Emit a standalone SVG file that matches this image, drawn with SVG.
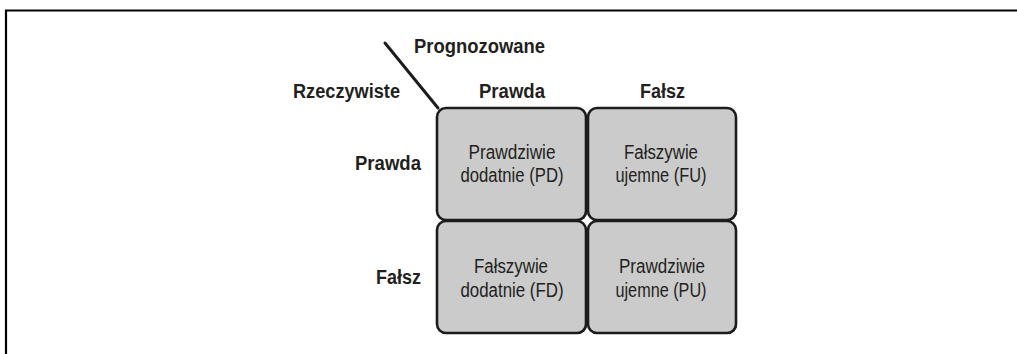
<svg xmlns="http://www.w3.org/2000/svg" width="1017" height="354" viewBox="0 0 1017 354">
<style>
.cell{fill:#cbcbcb;stroke:#1c1c1c;stroke-width:2.6}
.shadow{fill:#1c1c1c}
.hdr{font-family:"Liberation Sans",Arial,sans-serif;font-weight:bold;font-size:19.5px;fill:#231f20}
.txt{font-family:"Liberation Sans",Arial,sans-serif;font-size:20px;fill:#231f20;text-anchor:middle}
.frame{stroke:#000;stroke-width:2.2;fill:none}
</style>
<path class="frame" d="M6,354 V10.5 H1017"/>
<g id="connectors">
<line x1="385" y1="43" x2="438" y2="108" stroke="#1c1c1c" stroke-width="3" stroke-linecap="round"/>
</g>
<g id="label-prognozowane"><text class="hdr" x="414" y="53" textLength="131" lengthAdjust="spacingAndGlyphs">Prognozowane</text></g>
<g id="label-rzeczywiste"><text class="hdr" x="293" y="98" textLength="107" lengthAdjust="spacingAndGlyphs">Rzeczywiste</text></g>
<g id="col-prawda"><text class="hdr" x="479" y="98" textLength="66" lengthAdjust="spacingAndGlyphs">Prawda</text></g>
<g id="col-falsz"><text class="hdr" x="640" y="98" textLength="45" lengthAdjust="spacingAndGlyphs">Fałsz</text></g>
<g id="row-prawda"><text class="hdr" x="355" y="170" textLength="66" lengthAdjust="spacingAndGlyphs">Prawda</text></g>
<g id="row-falsz"><text class="hdr" x="376" y="284" textLength="45" lengthAdjust="spacingAndGlyphs">Fałsz</text></g>
<g id="cell-pd">
<rect class="shadow" x="438" y="109" width="149" height="112" rx="9"/>
<rect class="cell" x="437" y="108" width="149" height="112" rx="9"/>
<text class="txt" x="512" y="159" textLength="87" lengthAdjust="spacingAndGlyphs">Prawdziwie</text>
<text class="txt" x="512" y="182" textLength="103" lengthAdjust="spacingAndGlyphs">dodatnie (PD)</text>
</g>
<g id="cell-fu">
<rect class="shadow" x="589" y="109" width="148" height="112" rx="9"/>
<rect class="cell" x="588" y="108" width="148" height="112" rx="9"/>
<text class="txt" x="661" y="159" textLength="74" lengthAdjust="spacingAndGlyphs">Fałszywie</text>
<text class="txt" x="661" y="182" textLength="91" lengthAdjust="spacingAndGlyphs">ujemne (FU)</text>
</g>
<g id="cell-fd">
<rect class="shadow" x="438" y="222" width="149" height="112" rx="9"/>
<rect class="cell" x="437" y="221" width="149" height="112" rx="9"/>
<text class="txt" x="511" y="273" textLength="74" lengthAdjust="spacingAndGlyphs">Fałszywie</text>
<text class="txt" x="512" y="297" textLength="103" lengthAdjust="spacingAndGlyphs">dodatnie (FD)</text>
</g>
<g id="cell-pu">
<rect class="shadow" x="589" y="222" width="148" height="112" rx="9"/>
<rect class="cell" x="588" y="221" width="148" height="112" rx="9"/>
<text class="txt" x="662" y="273" textLength="86" lengthAdjust="spacingAndGlyphs">Prawdziwie</text>
<text class="txt" x="661" y="297" textLength="91" lengthAdjust="spacingAndGlyphs">ujemne (PU)</text>
</g>
</svg>
